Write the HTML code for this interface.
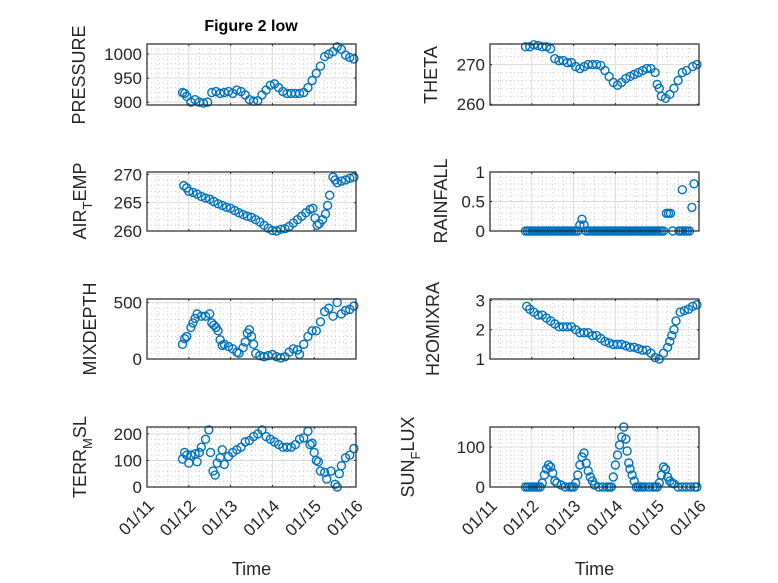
<!DOCTYPE html>
<html><head><meta charset="utf-8"><style>
html,body{margin:0;padding:0;background:#fff;}
svg{display:block;font-family:"Liberation Sans",sans-serif;}
</style></head><body>
<svg id="fig" width="778" height="583" viewBox="0 0 778 583" xmlns="http://www.w3.org/2000/svg">
<rect x="0" y="0" width="778" height="583" fill="#fff"/>
<text x="251" y="31" text-anchor="middle" font-size="16" font-weight="bold" fill="#000">Figure 2 low</text>
</svg>
<script>
const xTickLabels = ["01/11","01/12","01/13","01/14","01/15","01/16"];

const pressureT = [0.85,0.9,0.95,1.05,1.15,1.25,1.35,1.45,1.55,1.65,1.75,1.85,1.95,2.05,2.15,2.25,2.35,2.45,2.55,2.65,2.75,2.85,2.95,3.05,3.15,3.25,3.35,3.45,3.55,3.65,3.75,3.85,3.95,4.05,4.15,4.25,4.35,4.45,4.55,4.65,4.75,4.85,4.95];
const pressureV = [920,918,912,900,905,900,898,900,920,922,918,920,922,918,925,922,915,905,902,903,915,925,935,938,930,922,918,918,918,918,920,930,945,960,975,995,1000,1005,1015,1010,998,993,990];

const airT = [0.88,0.95,1.0,1.1,1.2,1.3,1.4,1.5,1.6,1.7,1.8,1.9,2.0,2.1,2.2,2.3,2.4,2.5,2.6,2.7,2.8,2.9,3.0,3.1,3.2,3.3,3.4,3.5,3.6,3.7,3.8,3.9,3.97,4.02,4.07,4.12,4.2,4.27,4.32,4.37,4.45,4.5,4.55,4.65,4.75,4.85,4.95];
const airV = [268,267.6,267,266.8,266.5,266.1,265.8,265.6,265.2,264.8,264.5,264.2,264,263.6,263.2,262.9,262.6,262.4,262,261.6,261,260.5,260.1,260,260.3,260.4,260.8,261.4,262,262.6,263.2,263.8,264,262.3,261,261.3,262,263,264.5,266.3,269.5,269,268.5,268.8,269,269.3,269.5];

const thetaT = [0.85,0.95,1.05,1.15,1.25,1.35,1.45,1.55,1.65,1.75,1.85,1.95,2.05,2.15,2.25,2.35,2.45,2.55,2.65,2.75,2.85,2.95,3.05,3.15,3.25,3.35,3.45,3.55,3.65,3.75,3.85,3.95,4.0,4.05,4.1,4.2,4.3,4.4,4.5,4.6,4.7,4.85,4.95];
const thetaV = [274.5,274.5,275,274.8,274.5,274.5,274,271.5,271,271,270.5,270.5,269.5,269,269.5,270,270,270,269.8,268.5,267,265.5,264.8,265.5,266.5,267,267.5,268,268.5,269,269,268,265,264,262,261.5,262.5,264,266,268,268.5,269.5,270];

const rainT = [0.85,0.9,0.95,1.0,1.05,1.1,1.15,1.2,1.25,1.3,1.35,1.4,1.45,1.5,1.55,1.6,1.65,1.7,1.75,1.8,1.85,1.9,1.95,2.0,2.05,2.1,2.15,2.2,2.25,2.3,2.35,2.4,2.45,2.5,2.55,2.6,2.65,2.7,2.75,2.8,2.85,2.9,2.95,3.0,3.05,3.1,3.15,3.2,3.25,3.3,3.35,3.4,3.45,3.5,3.55,3.6,3.65,3.7,3.75,3.8,3.85,3.9,3.95,4.0,4.05,4.1,4.15,4.22,4.27,4.32,4.37,4.52,4.57,4.6,4.62,4.67,4.72,4.77,4.83,4.88];
const rainV = [0,0,0,0,0,0,0,0,0,0,0,0,0,0,0,0,0,0,0,0,0,0,0,0,0,0,0.1,0.2,0.1,0,0,0,0,0,0,0,0,0,0,0,0,0,0,0,0,0,0,0,0,0,0,0,0,0,0,0,0,0,0,0,0,0,0,0,0,0,0,0.3,0.3,0.3,0,0,0,0.7,0,0,0,0,0.4,0.8];

const mixT = [0.85,0.9,0.95,1.05,1.1,1.15,1.2,1.3,1.4,1.5,1.55,1.6,1.65,1.7,1.75,1.8,1.85,1.95,2.05,2.15,2.2,2.3,2.35,2.4,2.45,2.5,2.55,2.6,2.7,2.8,2.9,3.0,3.1,3.2,3.3,3.4,3.5,3.6,3.65,3.75,3.85,3.95,4.05,4.15,4.25,4.35,4.45,4.55,4.65,4.75,4.85,4.95];
const mixV = [130,180,200,280,320,360,400,380,380,400,320,300,280,250,170,120,130,110,90,60,50,100,150,230,260,200,130,50,30,20,30,40,20,10,20,60,90,80,40,130,200,250,250,330,420,450,380,500,400,430,440,470];

const h2oT = [0.88,0.95,1.05,1.15,1.25,1.35,1.45,1.55,1.65,1.75,1.85,1.95,2.05,2.15,2.25,2.35,2.45,2.55,2.65,2.75,2.85,2.95,3.05,3.15,3.25,3.35,3.45,3.55,3.65,3.75,3.85,3.95,4.05,4.15,4.25,4.3,4.35,4.4,4.45,4.55,4.65,4.75,4.85,4.95];
const h2oV = [2.8,2.7,2.6,2.5,2.5,2.4,2.3,2.2,2.1,2.1,2.1,2.1,2.0,1.9,1.9,1.9,1.8,1.8,1.7,1.6,1.55,1.5,1.5,1.5,1.45,1.4,1.4,1.35,1.3,1.3,1.2,1.05,1.0,1.2,1.4,1.6,1.8,2.0,2.3,2.6,2.65,2.7,2.8,2.85];

const terrT = [0.85,0.9,0.95,1.0,1.05,1.15,1.2,1.25,1.3,1.4,1.48,1.52,1.58,1.63,1.68,1.75,1.8,1.85,1.95,2.05,2.15,2.25,2.35,2.45,2.55,2.65,2.75,2.85,2.95,3.05,3.15,3.25,3.35,3.45,3.55,3.65,3.75,3.85,3.9,3.95,4.0,4.05,4.1,4.15,4.25,4.3,4.4,4.5,4.55,4.6,4.65,4.75,4.85,4.95];
const terrV = [105,130,120,90,120,125,95,130,150,180,215,130,60,45,90,110,140,85,115,130,140,150,170,175,190,200,215,190,180,170,160,150,150,150,160,180,185,210,160,165,130,100,95,60,55,30,60,10,0,50,80,110,120,145];

const sunT = [0.85,0.9,0.95,1.0,1.05,1.1,1.15,1.2,1.25,1.3,1.35,1.4,1.45,1.5,1.55,1.6,1.7,1.8,1.9,1.95,2.0,2.05,2.1,2.15,2.2,2.25,2.3,2.35,2.4,2.45,2.5,2.6,2.7,2.8,2.85,2.9,2.95,3.0,3.05,3.1,3.15,3.2,3.25,3.28,3.32,3.35,3.4,3.45,3.5,3.55,3.6,3.65,3.7,3.8,3.9,3.95,4.0,4.05,4.1,4.15,4.2,4.25,4.3,4.35,4.4,4.5,4.6,4.7,4.8,4.9,4.95];
const sunV = [0,0,0,0,0,0,0,0,10,30,45,55,50,35,15,10,5,0,0,0,0,10,30,55,75,85,60,40,25,15,5,0,0,0,0,0,25,55,80,105,125,150,120,90,60,45,30,15,0,0,0,0,0,0,0,0,0,10,30,50,45,25,15,10,8,0,0,0,0,0,0];

const panels = [
 {name:"pressure", x0:147,y0:44,x1:356,y1:105, ymin:894,ymax:1021, ticks:[900,950,1000], minor:10, t:pressureT, v:pressureV, label:[["PRESSURE",""]], lx:85, ly:75, xt:false},
 {name:"theta", x0:490,y0:44,x1:699,y1:105, ymin:259.8,ymax:275.2, ticks:[260,270], minor:2, t:thetaT, v:thetaV, label:[["THETA",""]], lx:437, ly:75, xt:false},
 {name:"air-temp", x0:147,y0:172,x1:356,y1:231, ymin:260,ymax:270.4, ticks:[260,265,270], minor:1, t:airT, v:airV, label:[["AIR",""],["T","sub"],["EMP",""]], lx:86, ly:201, xt:false},
 {name:"rainfall", x0:490,y0:172,x1:699,y1:231, ymin:0,ymax:1, ticks:[0,0.5,1], minor:0.1, t:rainT, v:rainV, label:[["RAINFALL",""]], lx:447, ly:201, xt:false},
 {name:"mixdepth", x0:147,y0:299,x1:356,y1:359, ymin:0,ymax:532, ticks:[0,500], minor:50, t:mixT, v:mixV, label:[["MIXDEPTH",""]], lx:96, ly:329, xt:false},
 {name:"h2omixra", x0:490,y0:299,x1:699,y1:359, ymin:1,ymax:3.05, ticks:[1,2,3], minor:0.2, t:h2oT, v:h2oV, label:[["H2OMIXRA",""]], lx:439, ly:329, xt:false},
 {name:"terr-msl", x0:147,y0:427,x1:356,y1:487, ymin:0,ymax:226, ticks:[0,100,200], minor:20, t:terrT, v:terrV, label:[["TERR",""],["M","sub"],["SL",""]], lx:86, ly:457, xt:true},
 {name:"sun-flux", x0:490,y0:427,x1:699,y1:487, ymin:0,ymax:150, ticks:[0,100], minor:10, t:sunT, v:sunV, label:[["SUN",""],["F","sub"],["LUX",""]], lx:414, ly:457, xt:true}
];

const NS="http://www.w3.org/2000/svg";
const svg=document.getElementById('fig');
function mk(tag, attrs, parent){const e=document.createElementNS(NS,tag);for(const k in attrs)e.setAttribute(k,attrs[k]);(parent||svg).appendChild(e);return e;}

panels.forEach(p=>{
  const g=mk('g',{});
  
  
  const xs=d=>p.x0+(d/5)*(p.x1-p.x0);
  const ys=v=>p.y1-(v-p.ymin)/(p.ymax-p.ymin)*(p.y1-p.y0);
  for(let i=1;i<20;i++){ if(i%4===0) continue; const x=xs(i*0.25);
    mk('line',{x1:x,x2:x,y1:p.y0,y2:p.y1,stroke:"#c0c0c0","stroke-width":0.8,"stroke-dasharray":"1 3"},g);}
  const start=Math.ceil(p.ymin/p.minor-1e-6);
  for(let k=start;k*p.minor<=p.ymax+1e-9;k++){ const v=k*p.minor;
    if(p.ticks.some(t=>Math.abs(t-v)<1e-6)) continue;
    const y=ys(v); mk('line',{x1:p.x0,x2:p.x1,y1:y,y2:y,stroke:"#c0c0c0","stroke-width":0.8,"stroke-dasharray":"1 3"},g);}
  for(let i=1;i<5;i++){const x=xs(i);mk('line',{x1:x,x2:x,y1:p.y0,y2:p.y1,stroke:"#dcdcdc","stroke-width":1},g);}
  p.ticks.forEach(t=>{const y=ys(t);mk('line',{x1:p.x0,x2:p.x1,y1:y,y2:y,stroke:"#dcdcdc","stroke-width":1},g);});
  for(let i=0;i<=5;i++){const x=xs(i);
    mk('line',{x1:x,x2:x,y1:p.y1,y2:p.y1-2,stroke:"#262626"},g);
    mk('line',{x1:x,x2:x,y1:p.y0,y2:p.y0+2,stroke:"#262626"},g);}
  p.ticks.forEach(t=>{const y=ys(t);
    mk('line',{x1:p.x0,x2:p.x0+2,y1:y,y2:y,stroke:"#262626"},g);
    mk('line',{x1:p.x1,x2:p.x1-2,y1:y,y2:y,stroke:"#262626"},g);
    const tl=mk('text',{x:p.x0-5,y:y+6,"text-anchor":"end","font-size":17,fill:"#262626"},g);
    
    
    tl.textContent=String(t);
  });
  p.t.forEach((d,i)=>{
    const c=mk('circle',{cx:xs(d),cy:ys(p.v[i]),r:4,fill:"none",stroke:"#0072BD","stroke-width":1.4},g);
    
    
  });
  const box=mk('rect',{x:p.x0,y:p.y0,width:p.x1-p.x0,height:p.y1-p.y0,fill:"none",stroke:"#262626","stroke-width":1.2},g);
  
  
  const lab=mk('text',{transform:`translate(${p.lx},${p.ly}) rotate(-90)`,"text-anchor":"middle","font-size":18,fill:"#262626"},g);
  
  
  p.label.forEach(([s,kind])=>{
    const ts=mk('tspan',{},lab);
    if(kind==="sub"){ts.setAttribute('font-size','13');ts.setAttribute('dy','6');}
    else if(lab.childNodes.length>1){ts.setAttribute('dy','-6');}
    ts.textContent=s;
  });
  if(p.xt){
    xTickLabels.forEach((s,i)=>{const x=xs(i);
      const t=mk('text',{transform:`translate(${x+8},${p.y1+20}) rotate(-45)`,"text-anchor":"end","font-size":17,fill:"#262626"},g);
      
      
      t.textContent=s;});
    const xl=mk('text',{x:(p.x0+p.x1)/2,y:575,"text-anchor":"middle","font-size":18,fill:"#262626"},g);
    
    
    xl.textContent="Time";
  }
});
</script>
</body></html>
